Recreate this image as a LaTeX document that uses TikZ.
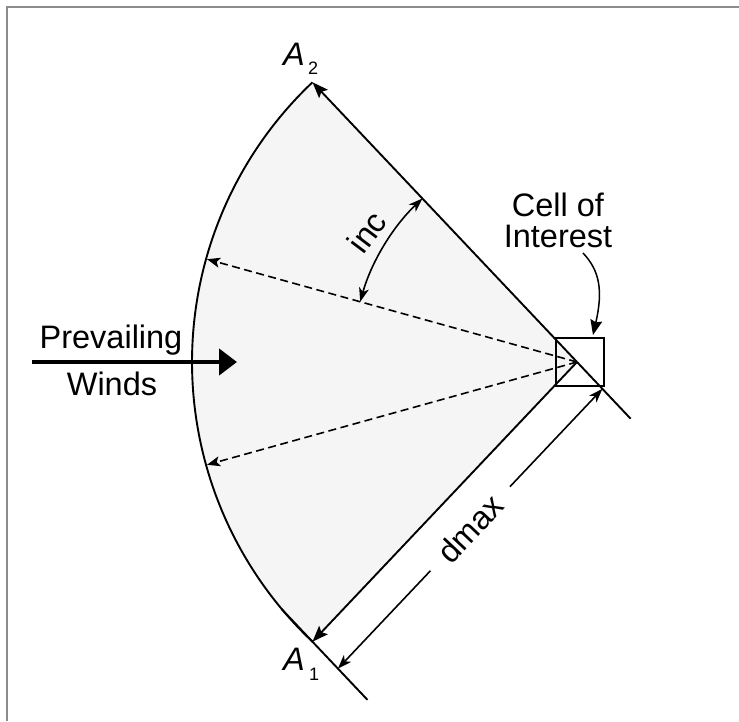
\documentclass[tikz,border=0pt]{standalone}
\usepackage{fontspec}
\setmainfont{Liberation Sans}
\usetikzlibrary{arrows.meta,calc}
\begin{document}
\begin{tikzpicture}[x=1pt,y=1pt,
  mainline/.style={line width=1.9pt},
  radarrow/.style={mainline,-{Stealth[length=16pt,width=12pt,inset=3pt]}},
  dasharrow/.style={line width=1.6pt,dash pattern=on 8pt off 4.5pt,-{Stealth[length=13pt,width=10pt,inset=3pt]}},
  dimarrow/.style={line width=1.6pt,{Stealth[length=14pt,width=10pt,inset=4pt]}-{Stealth[length=14pt,width=10pt,inset=4pt]}},
  lbl/.style={font=\fontsize{32.5}{38}\selectfont, inner sep=0pt},
  sublbl/.style={font=\fontsize{18}{20}\selectfont, inner sep=0pt},
  frameline/.style={draw=black!45,line width=2pt},
  wedgefill/.style={fill=black!4}
]
\useasboundingbox (0,0) rectangle (739,721);
\draw[frameline] (7,0) -- (7,714) -- (739,714);
% geometry
\coordinate (apex) at (577,359);
\coordinate (A2) at ($(apex)+(133.4:385)$);
\coordinate (A1) at ($(apex)+(226.6:385)$);
\coordinate (U) at ($(apex)+(164.47:384)$);
\coordinate (L) at ($(apex)+(195.53:384)$);
\coordinate (E2) at ($(apex)+(313.4:78)$);
\coordinate (X1) at ($(A1)+(133.4:45)$);
\coordinate (X2) at ($(A1)+(313.4:80)$);
\coordinate (D1) at ($(A1)+(313.4:37)$);
\coordinate (D2) at ($(apex)+(313.4:37)$);
\coordinate (I1) at ($(apex)+(133.4:225)$);
% wedge
\fill[wedgefill] (apex) -- (A2) arc[start angle=133.4, end angle=226.6, radius=385] -- cycle;
\draw[mainline] (A2) arc[start angle=133.4, end angle=226.6, radius=385];
% dashed rays
\draw[dasharrow] (apex) -- (U);
\draw[dasharrow] (apex) -- (L);
% radii
\draw[mainline] (E2) -- (apex);
\draw[radarrow] (apex) -- (A2);
\draw[radarrow] (apex) -- (A1);
\draw[mainline] (X1) -- (X2);
% cell box
\node[draw, line width=1.6pt, minimum size=48pt, inner sep=0pt] (cell) at (580,359) {};
% inc
\draw[dimarrow] (I1) arc[start angle=133.4, end angle=164.47, radius=225];
\node[lbl, rotate=53] (inc) at (367,489) {inc};
% dmax
\draw[dimarrow] (D1) -- (D2) node[midway, sloped, lbl, fill=white, inner xsep=18pt, inner ysep=1pt] (dmax) {dmax};
% labels A1, A2
\node[lbl, anchor=base west] (a2) at (283,655) {\itshape A};
\node[sublbl, anchor=base west] (a2s) at (308,646) {2};
\node[lbl, anchor=base west] (a1) at (283,51) {\itshape A};
\node[sublbl, anchor=base west] (a1s) at (309,41) {1};
% prevailing winds
\node[lbl, anchor=base] (prev) at (111,372) {Prevailing};
\node[lbl, anchor=base] (winds) at (112,325) {Winds};
\coordinate (W0) at (32,359);
\coordinate (W1) at (237,359);
\draw[line width=4.5pt, -{Triangle[length=18pt,width=26pt]}] (W0) -- (W1);
% cell of interest
\node[lbl, anchor=base] (cellof) at (558,504) {Cell of};
\node[lbl, anchor=base] (interest) at (558,473) {Interest};
\coordinate (C0) at (583,468);
\coordinate (C1) at (593,386);
\draw[line width=1.5pt, -{Stealth[length=15pt,width=12pt,inset=2pt]}] (C0) .. controls (600,450) and (603,430) .. (C1);
\end{tikzpicture}
\end{document}
